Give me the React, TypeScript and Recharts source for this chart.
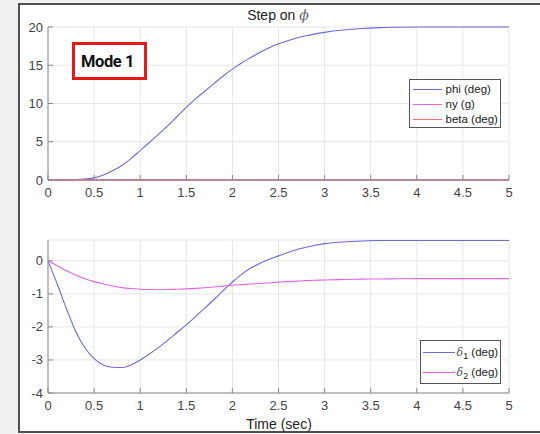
import React from "react";
import { LineChart, Line, XAxis, YAxis, CartesianGrid, Legend } from "recharts";

// ---- data ----
const time = [
  0, 0.1, 0.2, 0.3, 0.4, 0.5, 0.6, 0.7, 0.8, 0.9, 1.0, 1.1, 1.2, 1.3, 1.4, 1.5, 1.6, 1.7, 1.8, 1.9, 2.0,
  2.1, 2.2, 2.3, 2.4, 2.5, 2.6, 2.7, 2.8, 2.9, 3.0, 3.2, 3.4, 3.6, 3.8, 4.0, 4.5, 5.0,
];
const phiDeg = [
  0, 0, 0.02, 0.06, 0.14, 0.28, 0.65, 1.2, 1.9, 2.8, 3.85, 4.9, 6.0, 7.1, 8.3, 9.5, 10.6, 11.6, 12.6, 13.6, 14.5,
  15.3, 16.0, 16.7, 17.3, 17.8, 18.2, 18.55, 18.85, 19.1, 19.3, 19.6, 19.8, 19.92, 19.97, 20, 20, 20,
];
const nyG = [
  0, 0.01, 0.02, 0.03, 0.04, 0.04, 0.04, 0.04, 0.04, 0.04, 0.04, 0.03, 0.03, 0.03, 0.03, 0.03, 0.02, 0.02, 0.02, 0.02, 0.02,
  0.02, 0.01, 0.01, 0.01, 0.01, 0.01, 0.01, 0.01, 0.01, 0.01, 0.01, 0.01, 0.01, 0.01, 0.01, 0.01, 0.01,
];
const betaDeg = [
  0, 0.01, 0.01, 0.02, 0.02, 0.02, 0.02, 0.02, 0.02, 0.02, 0.02, 0.02, 0.02, 0.01, 0.01, 0.01, 0.01, 0.01, 0.01, 0.01, 0.01,
  0.01, 0.01, 0, 0, 0, 0, 0, 0, 0, 0, 0, 0, 0, 0, 0, 0, 0,
];
const delta1 = [
  0, -0.7, -1.45, -2.13, -2.63, -2.96, -3.15, -3.22, -3.23, -3.15, -3.0, -2.82, -2.62, -2.4, -2.17, -1.94, -1.69, -1.43, -1.17, -0.9, -0.64,
  -0.41, -0.22, -0.07, 0.05, 0.15, 0.25, 0.34, 0.41, 0.47, 0.52, 0.57, 0.6, 0.615, 0.62, 0.62, 0.62, 0.62,
];
const delta2 = [
  0, -0.15, -0.3, -0.43, -0.54, -0.63, -0.7, -0.76, -0.81, -0.84, -0.86, -0.87, -0.875, -0.87, -0.86, -0.85, -0.835, -0.815, -0.79, -0.765, -0.74,
  -0.72, -0.7, -0.685, -0.67, -0.645, -0.63, -0.615, -0.6, -0.59, -0.58, -0.565, -0.555, -0.548, -0.543, -0.54, -0.54, -0.54,
];

const xTicks = [0, 0.5, 1, 1.5, 2, 2.5, 3, 3.5, 4, 4.5, 5];
const yTicksTop = [0, 5, 10, 15, 20];
const yTicksBottom = [-4, -3, -2, -1, 0];
const topOrder = ["phi", "ny", "beta"];
const bottomOrder = ["d1", "d2"];

const topData = time.map((t, i) => ({ t, phi: phiDeg[i], ny: nyG[i], beta: betaDeg[i] }));
const bottomData = time.map((t, i) => ({ t, d1: delta1[i], d2: delta2[i] }));

const BLUE = "#6b6bd6";
const MAGENTA = "#e066e0";
const RED = "#f07070";
const COLORS: Record<string, string> = { phi: BLUE, ny: MAGENTA, beta: RED, d1: BLUE, d2: MAGENTA };
const AXIS = "#8a8a8a";
const TEXT = "#444";
const FONT = "'Liberation Sans', Arial, Helvetica, sans-serif";

const XTick = (props: any) => {
  const { x, y, payload } = props;
  return (
    <g>
      <line x1={x} y1={y} x2={x} y2={y - 5} stroke={AXIS} strokeWidth={1} />
      <text x={x} y={y + 17} textAnchor="middle" fontSize={13} fill={TEXT} fontFamily={FONT}>
        {String(payload.value)}
      </text>
    </g>
  );
};

const YTick = (props: any) => {
  const { x, y, payload } = props;
  return (
    <g>
      <line x1={x} y1={y} x2={x + 5} y2={y} stroke={AXIS} strokeWidth={1} />
      <text x={x - 5} y={y + 4.5} textAnchor="end" fontSize={13} fill={TEXT} fontFamily={FONT}>
        {String(payload.value)}
      </text>
    </g>
  );
};

const sortBy = (payload: any[], order: string[]) =>
  [...payload].sort((a, b) => order.indexOf(a.dataKey) - order.indexOf(b.dataKey));

const TopLegend = (props: any) => {
  const payload = sortBy(props.payload || [], topOrder);
  return (
    <div
      style={{
        position: "relative",
        width: 92,
        height: 49,
        border: "1px solid #555",
        background: "#fff",
        boxSizing: "border-box",
        fontFamily: FONT,
        fontSize: 11.5,
        color: "#222",
      }}
    >
      {payload.map((p: any, i: number) => (
        <div key={i} style={{ position: "absolute", left: 0, top: 1.5 + i * 15, height: 15, width: 90 }}>
          <div style={{ position: "absolute", left: 3, top: 7, width: 29, height: 1, background: COLORS[p.dataKey] || p.color }} />
          <div style={{ position: "absolute", left: 35.5, top: 0, lineHeight: "15px", whiteSpace: "nowrap" }}>{p.value}</div>
        </div>
      ))}
    </div>
  );
};

const BottomLegend = (props: any) => {
  const payload = sortBy(props.payload || [], bottomOrder);
  return (
    <div
      style={{
        position: "relative",
        width: 81,
        height: 44,
        border: "1px solid #555",
        background: "#fff",
        boxSizing: "border-box",
        fontFamily: FONT,
        fontSize: 11.5,
        color: "#222",
      }}
    >
      {payload.map((p: any, i: number) => (
        <div key={i} style={{ position: "absolute", left: 0, top: 2.5 + i * 20, height: 16, width: 79 }}>
          <div style={{ position: "absolute", left: 2, top: 8, width: 32, height: 1, background: COLORS[p.dataKey] || p.color }} />
          <div style={{ position: "absolute", left: 35.5, top: 0, lineHeight: "16px", whiteSpace: "nowrap" }}>
            <span style={{ fontStyle: "italic", fontFamily: "'DejaVu Serif', serif", fontSize: 11, color: "#555" }}>δ</span>
            <sub style={{ fontSize: 9, verticalAlign: "-3px" }}>{p.dataKey === "d1" ? "1" : "2"}</sub> (deg)
          </div>
        </div>
      ))}
    </div>
  );
};

export default function App() {
  return (
    <div
      style={{
        position: "absolute",
        left: 0,
        top: 0,
        width: 540,
        height: 434,
        background: "#f1f1f1",
        overflow: "hidden",
        fontFamily: FONT,
      }}
    >
      <div
        style={{
          position: "absolute",
          left: 18,
          top: 3,
          width: 540,
          height: 430,
          border: "2px solid #505050",
          background: "#fff",
          boxSizing: "border-box",
        }}
      />
      <div
        style={{
          position: "absolute",
          left: 178,
          top: 7,
          width: 200,
          textAlign: "center",
          fontSize: 14,
          color: "#222",
          fontFamily: FONT,
        }}
      >
        Step on <span style={{ fontStyle: "italic", fontFamily: "'DejaVu Serif', serif", color: "#666" }}>ϕ</span>
      </div>

      <div style={{ position: "absolute", left: 0, top: 0 }}>
        <LineChart width={540} height={210} data={topData} margin={{ top: 27, right: 31, bottom: 0, left: 0 }}>
          <CartesianGrid stroke="#e6e6e6" strokeWidth={1} />
          <XAxis
            dataKey="t"
            type="number"
            domain={[0, 5]}
            ticks={xTicks}
            height={30}
            tickSize={0}
            tickMargin={0}
            tick={<XTick />}
            axisLine={{ stroke: AXIS }}
            tickLine={false}
            interval={0}
          />
          <YAxis
            type="number"
            domain={[0, 20]}
            ticks={yTicksTop}
            width={48}
            tickSize={0}
            tickMargin={0}
            tick={<YTick />}
            axisLine={{ stroke: AXIS }}
            tickLine={false}
            interval={0}
          />
          <Legend
            layout="vertical"
            align="center"
            verticalAlign="middle"
            content={<TopLegend />}
            wrapperStyle={{ left: 409, top: 79, width: 92, height: 49 }}
          />
          <Line type="monotone" dataKey="phi" name="phi (deg)" stroke={BLUE} strokeWidth={1.1} dot={false} isAnimationActive={false} />
          <Line type="monotone" dataKey="ny" name="ny (g)" stroke={MAGENTA} strokeWidth={1.4} dot={false} isAnimationActive={false} />
          <Line type="monotone" dataKey="beta" name="beta (deg)" stroke={RED} strokeWidth={1.1} dot={false} isAnimationActive={false} />
        </LineChart>
      </div>

      <div style={{ position: "absolute", left: 0, top: 200 }}>
        <LineChart width={540} height={234} data={bottomData} margin={{ top: 40, right: 31, bottom: 0, left: 0 }}>
          <CartesianGrid stroke="#e6e6e6" strokeWidth={1} />
          <XAxis
            dataKey="t"
            type="number"
            domain={[0, 5]}
            ticks={xTicks}
            height={41}
            tickSize={0}
            tickMargin={0}
            tick={<XTick />}
            axisLine={{ stroke: AXIS }}
            tickLine={false}
            interval={0}
          />
          <YAxis
            type="number"
            domain={[-4, 0.63]}
            ticks={yTicksBottom}
            width={48}
            tickSize={0}
            tickMargin={0}
            tick={<YTick />}
            axisLine={{ stroke: AXIS }}
            tickLine={false}
            interval={0}
            allowDataOverflow
          />
          <Legend
            layout="vertical"
            align="center"
            verticalAlign="middle"
            content={<BottomLegend />}
            wrapperStyle={{ left: 420, top: 140, width: 81, height: 44 }}
          />
          <Line type="monotone" dataKey="d1" name="δ1 (deg)" stroke={BLUE} strokeWidth={1.1} dot={false} isAnimationActive={false} />
          <Line type="monotone" dataKey="d2" name="δ2 (deg)" stroke={MAGENTA} strokeWidth={1.1} dot={false} isAnimationActive={false} />
        </LineChart>
      </div>

      <div
        style={{
          position: "absolute",
          left: 219,
          top: 416,
          width: 120,
          textAlign: "center",
          fontSize: 14,
          color: "#222",
          fontFamily: FONT,
        }}
      >
        Time (sec)
      </div>

      <div
        style={{
          position: "absolute",
          left: 72,
          top: 42,
          width: 75,
          height: 38,
          border: "3px solid #e81818",
          boxSizing: "border-box",
          background: "#fff",
        }}
      >
        <div
          style={{
            position: "absolute",
            left: 6,
            top: 7,
            fontFamily: "Roboto, 'Noto Sans', sans-serif",
            fontWeight: 700,
            fontSize: 16.5,
            letterSpacing: -0.4,
            color: "#111",
            whiteSpace: "nowrap",
          }}
        >
          Mode 1
        </div>
      </div>
    </div>
  );
}
